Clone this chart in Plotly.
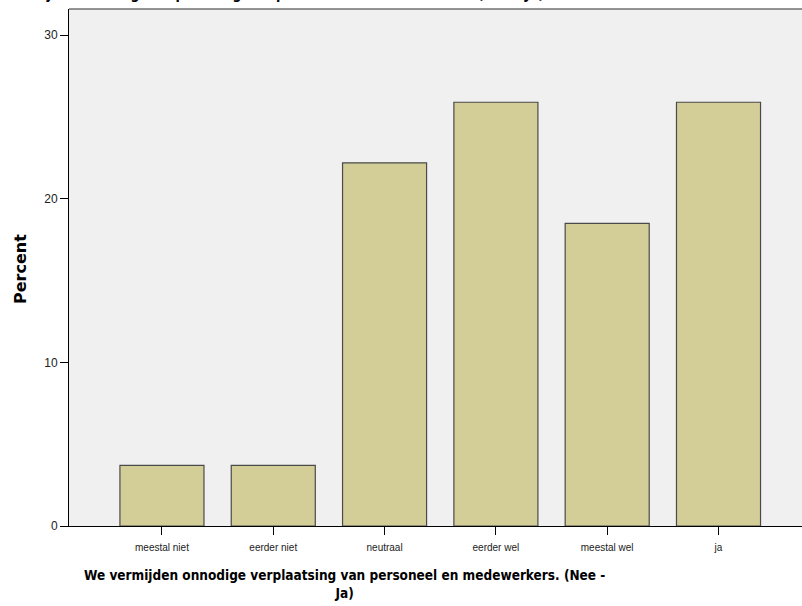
import plotly.graph_objects as go

categories = ["meestal niet", "eerder niet", "neutraal", "eerder wel", "meestal wel", "ja"]
percent = [3.7, 3.7, 22.2, 25.9, 18.5, 25.9]
y_ticks = [0, 10, 20, 30]
title_text = "We vermijden onnodige verplaatsing van personeel en medewerkers. (Nee - Ja)"
x_title = "We vermijden onnodige verplaatsing van personeel en medewerkers. (Nee -<br>Ja)"
y_title = "Percent"

W, H = 802, 606
L, R, T, B = 69, 0, 9, 80
pw, ph = W - L - R, H - T - B

def px_x(p):
    return (p - L) / pw

def px_y(p):
    return 1 - (p - T) / ph

fig = go.Figure(go.Bar(
    x=list(range(len(categories))), y=percent,
    width=0.755,
    marker=dict(color="#d3ce97", line=dict(color="#4a4a4a", width=1.2)),
))

fig.update_layout(
    width=W, height=H,
    margin=dict(l=L, r=R, t=T, b=B),
    paper_bgcolor="white", plot_bgcolor="#f0f0f0",
    showlegend=False,
    font=dict(family="Liberation Sans, Arial", color="#222"),
    xaxis=dict(
        range=[-0.835, 5.75], tickmode="array",
        tickvals=list(range(len(categories))), ticktext=categories,
        ticks="outside", ticklen=8, tickwidth=1, tickcolor="black",
        showline=True, linecolor="black", linewidth=1,
        showgrid=False, zeroline=False,
        tickfont=dict(size=10, color="#222"),
        ticklabelstandoff=4,
    ),
    yaxis=dict(
        range=[0, 31.6], tickmode="array", tickvals=y_ticks,
        ticktext=[str(v) for v in y_ticks],
        ticks="outside", ticklen=8, tickwidth=1, tickcolor="black",
        showline=True, linecolor="black", linewidth=1,
        showgrid=False, zeroline=False,
        tickfont=dict(size=12, color="#222"),
    ),
    shapes=[dict(type="line", xref="paper", yref="paper", x0=0, x1=1, y0=1, y1=1,
                 line=dict(color="#707070", width=1.5))],
    annotations=[
        dict(text="<b>" + x_title + "</b>", xref="paper", yref="paper",
             x=px_x(344), y=px_y(565), xanchor="center", yanchor="top",
             showarrow=False, align="center",
             font=dict(family="DejaVu Sans Condensed, DejaVu Sans", size=13.5, color="black")),
        dict(text="<b>" + y_title + "</b>", xref="paper", yref="paper",
             x=px_x(20), y=px_y(269), xanchor="center", yanchor="middle",
             textangle=-90, showarrow=False,
             font=dict(family="DejaVu Sans", size=16, color="black")),
        dict(text="<b>" + title_text + "</b>", xref="paper", yref="paper",
             x=px_x(262), y=px_y(4), xanchor="center", yanchor="bottom",
             showarrow=False,
             font=dict(family="DejaVu Sans Condensed, DejaVu Sans", size=14, color="black")),
    ],
)

fig.write_html("out.html", config={"displayModeBar": False},
               post_script="document.body.style.margin='0';document.body.style.overflow='hidden';")
